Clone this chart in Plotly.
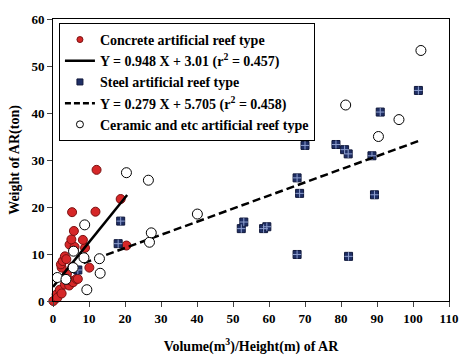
import plotly.graph_objects as go

# Concrete artificial reef type
concrete_x = [0.1, 1.0, 1.2, 1.9, 2.4, 3.3, 4.5, 4.7, 5.6, 6.5, 6.9, 3.9, 2.4, 2.2, 2.7, 3.3, 3.7,
              5.4, 10.1, 4.6, 6.0, 8.9, 5.1, 8.3, 5.8, 5.3, 11.8, 12.1, 18.8, 20.4]
concrete_y = [0.0, 1.4, 0.7, 2.4, 1.6, 3.5, 3.3, 4.4, 4.0, 4.7, 4.7, 5.9, 7.1, 7.8, 8.5, 9.5, 8.9,
              7.3, 7.1, 12.0, 11.5, 11.3, 13.1, 13.0, 14.9, 18.9, 19.0, 27.9, 21.7, 11.8]

# Steel artificial reef type
steel_x = [6.9, 18.1, 18.8, 52.3, 53.0, 58.5, 59.4, 67.8, 67.8, 68.5, 70.0, 78.6, 81.0, 82.0,
           82.1, 88.6, 89.3, 90.9, 101.5]
steel_y = [6.6, 12.2, 17.0, 15.4, 16.8, 15.4, 15.8, 9.9, 26.2, 22.9, 33.1, 33.3, 32.2, 31.3,
           9.5, 30.9, 22.6, 40.2, 44.8]

# Ceramic and etc artificial reef type
ceramic_x = [1.2, 3.6, 5.6, 5.7, 8.6, 8.8, 9.4, 12.9, 13.1, 20.4, 26.5, 26.8, 27.3, 40.1,
             81.3, 90.4, 96.1, 102.2]
ceramic_y = [5.0, 4.6, 7.1, 10.6, 9.2, 16.2, 2.4, 9.0, 5.9, 27.3, 25.7, 12.5, 14.5, 18.5,
             41.7, 35.0, 38.6, 53.3]

# Regression fits (slope, intercept, x range)
fit1_slope, fit1_icpt, fit1_range = 0.948, 3.01, [0.0, 20.6]
fit2_slope, fit2_icpt, fit2_range = 0.279, 5.705, [8.5, 102.0]

series_names = ["Concrete artificial reef type",
                "Y = 0.948 X + 3.01 (r<sup>2</sup> = 0.457)",
                "Steel artificial reef type",
                "Y = 0.279 X + 5.705 (r<sup>2</sup> = 0.458)",
                "Ceramic and etc artificial reef type"]

x_ticks = list(range(0, 111, 10))
y_ticks = list(range(0, 61, 10))

FONT = "Liberation Serif, Times New Roman, serif"

RED = dict(color="#d62728", line=dict(color="#7a1010", width=1))
NAVY = dict(color="#1f2f66", line=dict(color="#10183a", width=1))
WHITE = dict(color="white", line=dict(color="black", width=1))

fig = go.Figure()

# --- data traces (legend handled by small-marker legend entries) ---
fig.add_trace(go.Scatter(
    x=concrete_x, y=concrete_y, mode="markers", showlegend=False, legendgroup="c",
    marker=dict(symbol="circle", size=9, **RED), cliponaxis=False))

fig.add_trace(go.Scatter(
    x=fit1_range, y=[fit1_slope * v + fit1_icpt for v in fit1_range], mode="lines",
    showlegend=False, legendgroup="f1", line=dict(color="black", width=2.5)))

fig.add_trace(go.Scatter(
    x=steel_x, y=steel_y, mode="markers", showlegend=False, legendgroup="s",
    marker=dict(symbol="square", size=8, **NAVY)))
fig.add_trace(go.Scatter(
    x=steel_x, y=steel_y, mode="markers", showlegend=False, legendgroup="s",
    hoverinfo="skip",
    marker=dict(symbol="cross-thin-open", size=6, color="#8fa0d0",
                line=dict(color="#8fa0d0", width=1))))

fig.add_trace(go.Scatter(
    x=fit2_range, y=[fit2_slope * v + fit2_icpt for v in fit2_range], mode="lines",
    showlegend=False, legendgroup="f2", line=dict(color="black", width=2.5, dash="8px,4px")))

fig.add_trace(go.Scatter(
    x=ceramic_x, y=ceramic_y, mode="markers", showlegend=False, legendgroup="w",
    marker=dict(symbol="circle", size=10, **WHITE)))

# --- legend entries ---
fig.add_trace(go.Scatter(x=[None], y=[None], mode="markers", name=series_names[0],
                         legendgroup="c", marker=dict(symbol="circle", size=6, **RED)))
fig.add_trace(go.Scatter(x=[None], y=[None], mode="lines", name=series_names[1],
                         legendgroup="f1", line=dict(color="black", width=2.5)))
fig.add_trace(go.Scatter(x=[None], y=[None], mode="markers", name=series_names[2],
                         legendgroup="s", marker=dict(symbol="square", size=6, **NAVY)))
fig.add_trace(go.Scatter(x=[None], y=[None], mode="lines", name=series_names[3],
                         legendgroup="f2",
                         line=dict(color="black", width=2.5, dash="6px,3px")))
fig.add_trace(go.Scatter(x=[None], y=[None], mode="markers", name=series_names[4],
                         legendgroup="w", marker=dict(symbol="circle", size=7, **WHITE)))

fig.update_layout(
    width=470, height=363,
    margin=dict(l=53, r=15, t=17, b=57),
    plot_bgcolor="white", paper_bgcolor="white",
    font=dict(family=FONT, size=13, color="black"),
    showlegend=True,
    legend=dict(x=0.015, y=0.986, xanchor="left", yanchor="top",
                bordercolor="black", borderwidth=1, bgcolor="white",
                font=dict(family=FONT, size=14, color="black", weight="bold"),
                tracegroupgap=0, itemclick=False),
    xaxis=dict(range=[0, 110], tickvals=x_ticks, ticks="outside", ticklen=5,
               showgrid=False, zeroline=False, showline=True, linecolor="black",
               linewidth=1, mirror=True,
               tickfont=dict(family=FONT, size=13, weight="bold"),
               title=dict(text="<b>Volume(m<sup>3</sup>)/Height(m) of AR</b>",
                          font=dict(family=FONT, size=14), standoff=16)),
    yaxis=dict(range=[0, 60], tickvals=y_ticks, ticks="outside", ticklen=5,
               showgrid=False, zeroline=False, showline=True, linecolor="black",
               linewidth=1, mirror=True,
               tickfont=dict(family=FONT, size=13, weight="bold"),
               title=dict(text="<b>Weight of AR(ton)</b>",
                          font=dict(family=FONT, size=14), standoff=8)),
)

fig.write_html("out.html",
               config={"displayModeBar": False},
               post_script="document.body.style.margin='0';document.body.style.overflow='hidden';")
